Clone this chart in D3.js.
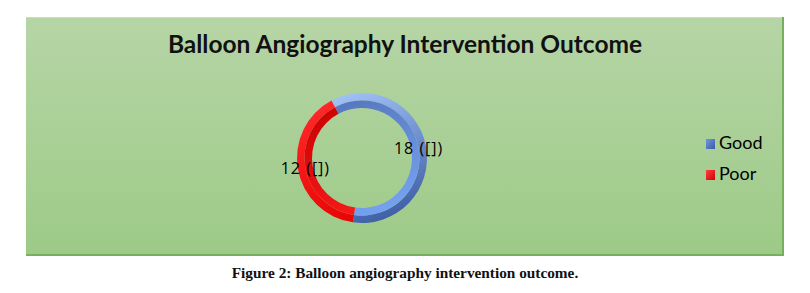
<!DOCTYPE html>
<html>
<head>
<meta charset="utf-8">
<script src="https://cdn.jsdelivr.net/npm/d3@7"></script>
<style>
  body { margin: 0; background: #fff; }
  svg { display: block; }
</style>
</head>
<body>
<script>
const categories = ["Good", "Poor"];
const values = [18, 12];
const labels = ["18 ([])", "12 ([])"];
const title = "Balloon Angiography Intervention Outcome";
const caption = "Figure 2: Balloon angiography intervention outcome.";

const W = 810, H = 293;
const cx = 362, cy = 158, rOut = 65, rIn = 50, rMid = 57.5;

const svg = d3.select("body")
  .append("svg")
  .attr("width", W)
  .attr("height", H);

const defs = svg.append("defs");

const bg = defs.append("linearGradient")
  .attr("id", "bg")
  .attr("x1", 0).attr("y1", 0).attr("x2", 0).attr("y2", 1);
bg.append("stop").attr("offset", "0%").attr("stop-color", "#b6d5a6");
bg.append("stop").attr("offset", "100%").attr("stop-color", "#9dca87");

// shading per slice: [outer band top, outer band bottom, inner band top, inner band bottom]
const shades = {
  Good: ["#a2c4f8", "#3d5da4", "#5474bb", "#78a6f4"],
  Poor: ["#ff2a2a", "#e40000", "#c80000", "#ff1e1e"]
};

const grad = (id, c1, c2) => {
  const gr = defs.append("linearGradient")
    .attr("id", id)
    .attr("gradientUnits", "userSpaceOnUse")
    .attr("x1", -25).attr("y1", -rOut)
    .attr("x2", 25).attr("y2", rOut);
  gr.append("stop").attr("offset", "0%").attr("stop-color", c1);
  gr.append("stop").attr("offset", "100%").attr("stop-color", c2);
};
categories.forEach(c => {
  const s = shades[c];
  grad("out-" + c, s[0], s[1]);
  grad("in-" + c, s[2], s[3]);
});

// panel
svg.append("rect")
  .attr("x", 26).attr("y", 17)
  .attr("width", 758).attr("height", 239)
  .attr("fill", "url(#bg)");
svg.append("path")
  .attr("d", "M26,17.5 H783.5 V255.5 H26")
  .attr("fill", "none")
  .attr("stroke", "#c8e0bc")
  .attr("stroke-width", 1);
svg.append("path")
  .attr("d", "M783,17 V255 H26")
  .attr("fill", "none")
  .attr("stroke", "#77b05c")
  .attr("stroke-width", 2);

svg.append("text")
  .attr("x", 405).attr("y", 53)
  .attr("text-anchor", "middle")
  .attr("font-family", "Lato, sans-serif")
  .attr("font-weight", "bold")
  .attr("font-size", 24.5)
  .attr("fill", "#111")
  .text(title);

const data = categories.map((c, i) => ({ cat: c, value: values[i], label: labels[i] }));
const offset = -28 * Math.PI / 180;
const pie = d3.pie()
  .sort(null)
  .value(d => d.value)
  .startAngle(offset)
  .endAngle(offset + 2 * Math.PI);
const arcs = pie(data);

const g = svg.append("g").attr("transform", `translate(${cx},${cy})`);
const arcOut = d3.arc().innerRadius(rMid).outerRadius(rOut);
const arcIn = d3.arc().innerRadius(rIn).outerRadius(rMid);

arcs.forEach(a => {
  g.append("path")
    .attr("d", arcOut(a))
    .attr("fill", `url(#out-${a.data.cat})`);
  g.append("path")
    .attr("d", arcIn(a))
    .attr("fill", `url(#in-${a.data.cat})`);
});

const labelArc = d3.arc().innerRadius(rMid).outerRadius(rMid);
g.selectAll("text.lbl")
  .data(arcs)
  .enter()
  .append("text")
  .attr("class", "lbl")
  .attr("x", d => labelArc.centroid(d)[0])
  .attr("y", d => labelArc.centroid(d)[1] + 6)
  .attr("text-anchor", "middle")
  .attr("font-family", "'Open Sans', sans-serif")
  .attr("font-size", 16)
  .attr("letter-spacing", 1)
  .attr("fill", "#000")
  .text(d => d.data.label);

// legend
const legend = svg.append("g");
const colorsLeg = { Good: ["#6f98e0", "#3a5aa3"], Poor: ["#ff4040", "#d00000"] };
categories.forEach((c, i) => {
  const y = 139 + i * 31;
  const lg = defs.append("linearGradient")
    .attr("id", "leg-" + c)
    .attr("x1", 0).attr("y1", 0).attr("x2", 1).attr("y2", 1);
  lg.append("stop").attr("offset", "0%").attr("stop-color", colorsLeg[c][0]);
  lg.append("stop").attr("offset", "100%").attr("stop-color", colorsLeg[c][1]);
  legend.append("rect")
    .attr("x", 706).attr("y", y)
    .attr("width", 9).attr("height", 10)
    .attr("fill", `url(#leg-${c})`);
  legend.append("text")
    .attr("x", 719).attr("y", y + 10)
    .attr("font-family", "Lato, sans-serif")
    .attr("font-size", 18)
    .attr("fill", "#000")
    .text(c);
});

svg.append("text")
  .attr("x", 405).attr("y", 278)
  .attr("text-anchor", "middle")
  .attr("font-family", "'Liberation Serif', serif")
  .attr("font-weight", "bold")
  .attr("font-size", 15.3)
  .attr("fill", "#111")
  .text(caption);
</script>
</body>
</html>
